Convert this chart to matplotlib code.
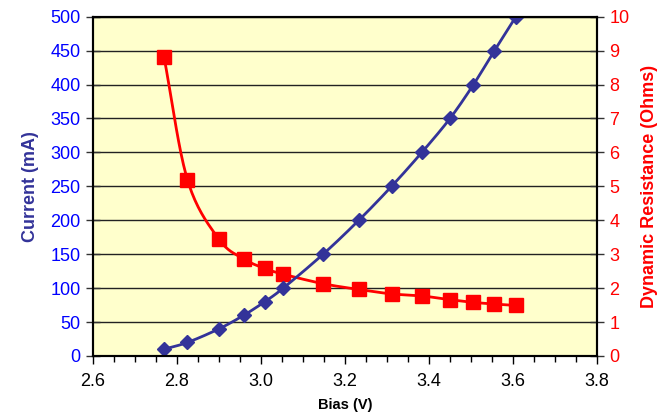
import numpy as np
import matplotlib
matplotlib.use("Agg")
import matplotlib.pyplot as plt
from matplotlib.ticker import MultipleLocator

plt.rcParams['font.family'] = ['Liberation Sans', 'DejaVu Sans']

# data
bias = [2.769, 2.825, 2.900, 2.959, 3.009, 3.053, 3.148, 3.233, 3.311, 3.383, 3.450, 3.506, 3.556, 3.607]
current = [10, 20, 40, 60, 80, 100, 150, 200, 250, 300, 350, 400, 450, 500]
resistance = [8.82, 5.19, 3.44, 2.86, 2.58, 2.41, 2.13, 1.96, 1.83, 1.77, 1.66, 1.58, 1.53, 1.49]


def smooth(x, y, n=20):
    # Catmull-Rom curve through the points, like Excel's smoothed line
    x = np.asarray(x, float)
    y = np.asarray(y, float)
    px = np.concatenate([[2 * x[0] - x[1]], x, [2 * x[-1] - x[-2]]])
    py = np.concatenate([[2 * y[0] - y[1]], y, [2 * y[-1] - y[-2]]])
    xs, ys = [], []
    t = np.linspace(0, 1, n, endpoint=False)
    for i in range(1, len(px) - 2):
        for p, out in ((px, xs), (py, ys)):
            p0, p1, p2, p3 = p[i - 1], p[i], p[i + 1], p[i + 2]
            out.extend(0.5 * (2 * p1 + (-p0 + p2) * t + (2 * p0 - 5 * p1 + 4 * p2 - p3) * t ** 2
                              + (-p0 + 3 * p1 - 3 * p2 + p3) * t ** 3))
    xs.append(x[-1])
    ys.append(y[-1])
    return xs, ys


fig = plt.figure(figsize=(6.65, 4.2), dpi=100)
ax = fig.add_axes([0.1398, 0.1524, 0.7579, 0.8079])
ax.set_facecolor('#FFFFCC')
ax2 = ax.twinx()

ax.set_xlim(2.6, 3.8)
ax.set_ylim(0, 500)
ax2.set_ylim(0, 10)
ax.yaxis.set_major_locator(MultipleLocator(50))
ax2.yaxis.set_major_locator(MultipleLocator(1))
ax.xaxis.set_major_locator(MultipleLocator(0.2))
ax.xaxis.set_minor_locator(MultipleLocator(0.05))
ax.xaxis.set_major_formatter(plt.FuncFormatter(lambda v, p: f"{v:.1f}"))
ax.grid(axis='y', color='#222222', linewidth=1.0)
ax.set_axisbelow(True)

# resistance drawn in ax2 units, but under the current series
rx, ry = smooth(bias, resistance)
ax.plot(rx, ry, color='#FF0000', linewidth=2, zorder=3, transform=ax2.transData)
ax.plot(bias, resistance, linestyle='none', marker='s', markersize=10,
        color='#FF0000', zorder=4, transform=ax2.transData)

sx, sy = smooth(bias, current)
ax.plot(sx, sy, color='#333399', linewidth=2, zorder=5)
ax.plot(bias, current, linestyle='none', marker='D', markersize=7,
        color='#333399', zorder=6)

ax.set_xlim(2.6, 3.8)
ax.set_ylim(0, 500)

ax.tick_params(axis='y', labelsize=13, length=10, width=1, labelcolor='#0000FF',
               color='#333333', direction='inout', pad=4)
ax.tick_params(axis='x', labelsize=13, length=6, width=1, pad=6)
ax.tick_params(axis='x', which='minor', length=4, width=1)
ax2.tick_params(axis='y', labelsize=13, length=10, width=1, labelcolor='#FF0000',
                color='#333333', direction='inout', pad=4)

for a in (ax, ax2):
    for s in a.spines.values():
        s.set_linewidth(1.5)
        s.set_color('black')

ax.set_xlabel('Bias (V)', fontsize=10.5, fontweight='bold', labelpad=6)
ax.set_ylabel('Current (mA)', fontsize=13, fontweight='bold', color='#333399', labelpad=8)
ax2.set_ylabel('Dynamic Resistance (Ohms)', fontsize=13, fontweight='bold', color='#FF0000', labelpad=8)

fig.savefig('out.png', dpi=100)
